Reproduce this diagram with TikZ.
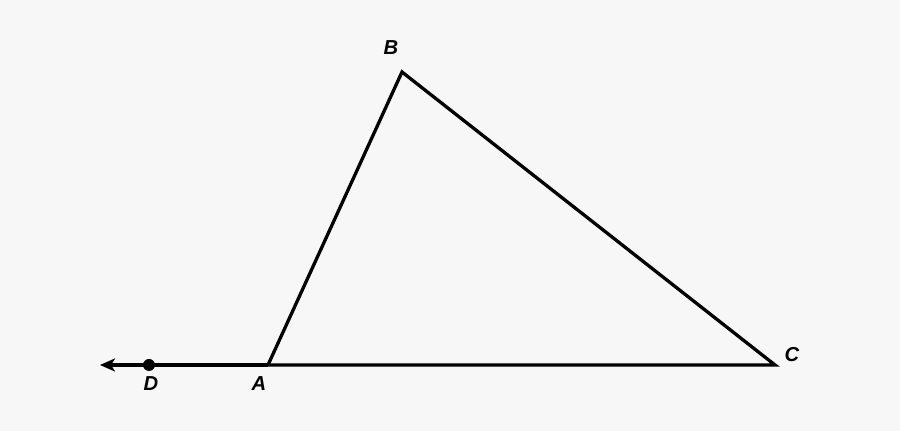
\documentclass[tikz,border=0pt]{standalone}
\usepackage{fontspec}
\setmainfont{Liberation Sans}
\usetikzlibrary{arrows.meta}
\definecolor{bgcol}{HTML}{F7F7F7}
\tikzset{
  lbl/.style={font=\fontsize{11.5}{13}\selectfont\bfseries\itshape, inner sep=0pt},
  edge/.style={line width=0.066cm, line join=miter}
}
\begin{document}
\begin{tikzpicture}[x=0.02cm,y=-0.02cm]
      \useasboundingbox[fill=bgcol] (0,0) rectangle (900,431);
      \draw
        (268,365) coordinate (A)
        (402,72) coordinate (B)
        (775,365) coordinate (C)
        (149,365) coordinate (D)
        (100,365) coordinate (E);
      \node[lbl] (lA) at (259,384) {A};
      \node[lbl] (lB) at (391,48) {B};
      \node[lbl] (lC) at (792,355) {C};
      \node[lbl] (lD) at (151,384) {D};
      \begin{scope}[edge]
        \draw (A) -- (B) -- (C) -- cycle;
        \draw[-{Stealth[length=0.3cm,width=0.26cm,inset=0.08cm]}] (A) to (E);
      \end{scope}
      \fill (D) circle[radius=0.12cm];
    \end{tikzpicture}
\end{document}
